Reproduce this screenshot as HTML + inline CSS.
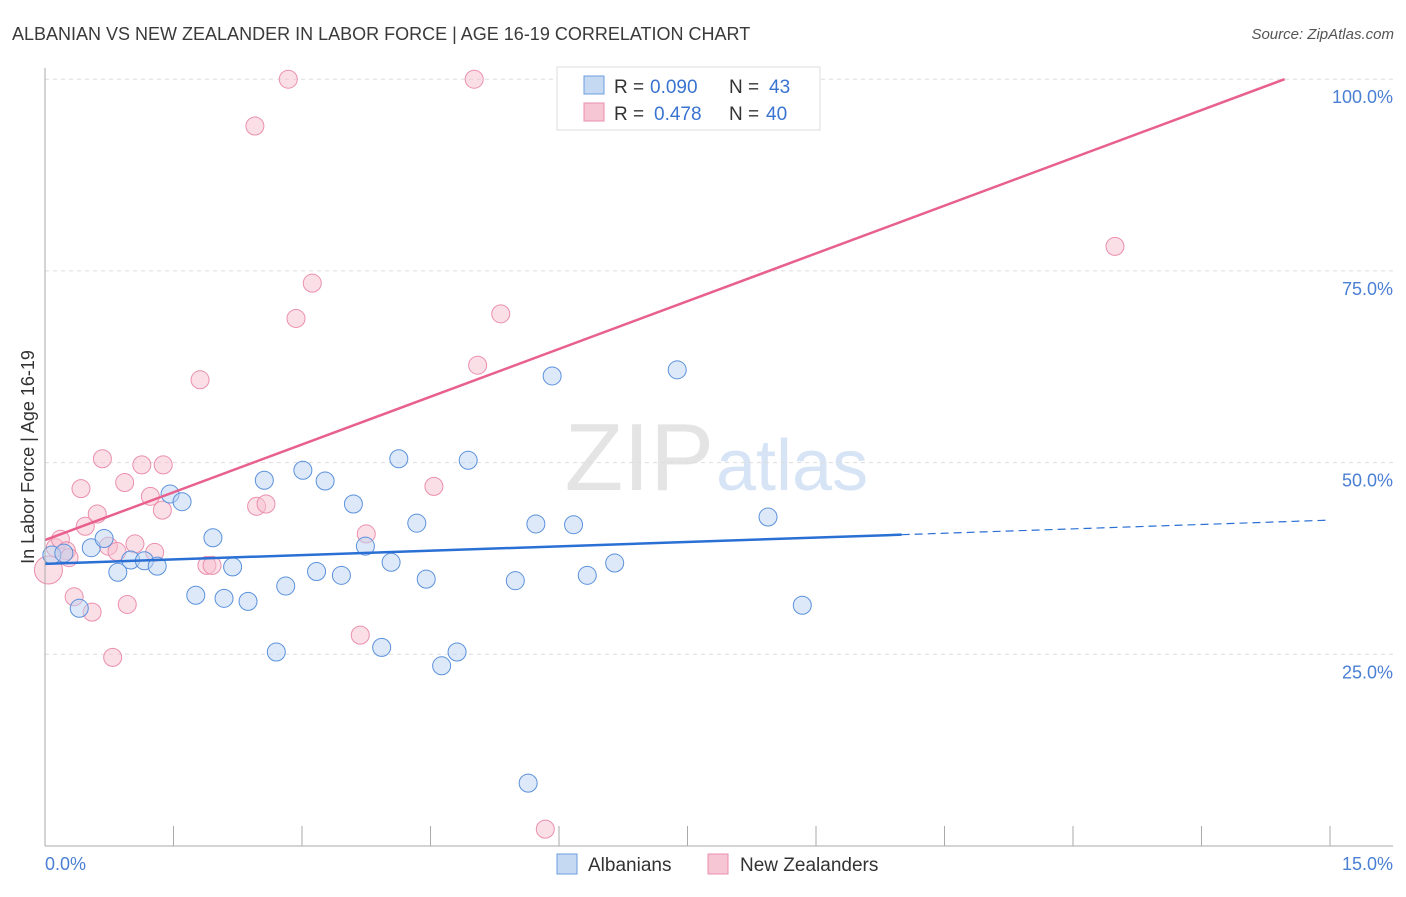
<!DOCTYPE html>
<html><head><meta charset="utf-8"><style>
body{margin:0;background:#fff;font-family:"Liberation Sans",sans-serif;}
svg text{font-family:"Liberation Sans",sans-serif;}
</style></head><body>
<svg id="chart" width="1406" height="892">
<text x="12" y="40" font-size="18" fill="#3a3a3a">ALBANIAN VS NEW ZEALANDER IN LABOR FORCE | AGE 16-19 CORRELATION CHART</text>
<text x="1394" y="39" font-size="15" fill="#555" text-anchor="end" font-style="italic">Source: ZipAtlas.com</text>
<text x="714" y="490" font-size="96" fill="#e4e4e4" text-anchor="end" font-family="Liberation Serif">ZIP</text>
<text x="716" y="490" font-size="72" fill="#d6e4f6">atlas</text>
<g id="grid"></g><g id="marks"></g><g id="axes"></g>
<text transform="translate(34,457) rotate(-90)" font-size="18" fill="#333" text-anchor="middle">In Labor Force | Age 16-19</text>
<rect x="557" y="67" width="263" height="63" fill="#fff" stroke="#ddd"/>
<rect x="584" y="76" width="20" height="18" fill="#c5d9f3" stroke="#6b9de0"/>
<rect x="584" y="103" width="20" height="18" fill="#f7c6d4" stroke="#eb8fae"/>
<g font-size="19">
<text x="614" y="93" fill="#333">R =</text><text x="650" y="93" fill="#3a74d0">0.090</text>
<text x="729" y="93" fill="#333">N =</text><text x="769" y="93" fill="#3a74d0">43</text></g>
<g font-size="19">
<text x="614" y="120" fill="#333">R =</text><text x="654" y="120" fill="#3a74d0">0.478</text>
<text x="729" y="120" fill="#333">N =</text><text x="766" y="120" fill="#3a74d0">40</text></g>
<rect x="557" y="854" width="20" height="20" fill="#c5d9f3" stroke="#6b9de0"/>
<text x="588" y="871" font-size="19" fill="#333">Albanians</text>
<rect x="708" y="854" width="20" height="20" fill="#f7c6d4" stroke="#eb8fae"/>
<text x="740" y="871" font-size="19" fill="#333">New Zealanders</text>
<text x="45" y="870" font-size="18" fill="#4a7fd4">0.0%</text>
<text x="1393" y="870" font-size="18" fill="#4a7fd4" text-anchor="end">15.0%</text>
</svg>
<script>
const yTicks=[25,50,75,100];
const yTickLabels=["25.0%","50.0%","75.0%","100.0%"];
const blueX=[0.08,0.22,0.54,0.69,0.40,0.85,1.00,1.16,1.31,1.46,1.60,1.76,1.96,2.09,2.19,2.37,2.56,2.70,2.81,3.01,3.17,3.27,3.46,3.60,3.74,3.93,4.04,4.13,4.34,4.45,4.63,4.81,4.94,5.49,5.64,5.73,5.92,6.17,6.33,6.65,7.38,8.44,8.84];
const blueY=[37.95,38.2,38.9,40.1,31.0,35.7,37.3,37.2,36.5,45.9,44.9,32.7,40.2,32.3,36.4,31.9,47.7,25.3,33.9,49.0,35.8,47.6,35.3,44.6,39.1,25.9,37.0,50.5,42.1,34.8,23.5,25.3,50.3,34.6,8.2,42.0,61.3,41.9,35.3,36.9,62.1,42.9,31.4];
const pinkX=[0.04,0.12,0.18,0.25,0.28,0.34,0.42,0.47,0.55,0.61,0.67,0.74,0.79,0.84,0.93,0.96,1.05,1.13,1.23,1.28,1.37,1.38,1.81,1.89,1.95,2.45,2.47,2.58,2.84,2.93,3.12,3.68,3.75,4.54,5.01,5.05,5.32,5.84,7.67,12.49];
const pinkY=[36.0,38.9,40.0,38.5,37.6,32.5,46.6,41.7,30.5,43.3,50.5,39.1,24.6,38.4,47.4,31.5,39.4,49.7,45.6,38.3,43.8,49.7,60.8,36.6,36.6,93.9,44.3,44.6,100,68.8,73.4,27.5,40.7,46.9,100,62.7,69.4,2.2,100,78.2];
const blueTrend=[36.8,40.6,42.5];
const pinkTrend=[39.9,100];
const pinkTrendEndX=14.47;
const NS="http://www.w3.org/2000/svg";
const X=v=>45+v*(1285/15), Y=v=>846-v*7.668;
function mk(t,a,p){const e=document.createElementNS(NS,t);for(const k in a)e.setAttribute(k,a[k]);p.appendChild(e);return e;}
const grid=document.getElementById('grid'),marks=document.getElementById('marks'),axes=document.getElementById('axes');
yTicks.forEach((t,i)=>{
 const l=mk('line',{x1:45,x2:1393,y1:Y(t),y2:Y(t),stroke:'#ddd','stroke-dasharray':'4,4'},grid);
 
 
 const tx=mk('text',{x:1393,y:Y(t)+24,'font-size':18,fill:'#4a7fd4','text-anchor':'end'},grid);
 tx.textContent=yTickLabels[i];
 
 
});
const ya=mk('line',{x1:45,x2:45,y1:68,y2:846,stroke:'#aaa'},axes);


const xa=mk('line',{x1:45,x2:1393,y1:846,y2:846,stroke:'#aaa'},axes);


for(let i=0;i<=10;i++){const t=mk('line',{x1:X(i*1.5),x2:X(i*1.5),y1:826,y2:846,stroke:'#aaa'},axes);
 
 }
function pts(xs,ys,fill,stroke,name){xs.forEach((x,i)=>{
 const c=mk('circle',{cx:X(x),cy:Y(ys[i]),r:(i==0&&name=='point-new-zealanders')?14:9,fill:fill,'fill-opacity':0.5,stroke:stroke,'stroke-width':1},marks);
 
 });}
pts(pinkX,pinkY,'#f7c0d0','#eb8fae','point-new-zealanders');
pts(blueX,blueY,'#bcd3f2','#5b91dc','point-albanians');
const b1=mk('line',{x1:X(0),y1:Y(blueTrend[0]),x2:X(10),y2:Y(blueTrend[1]),stroke:'#2a6fd4','stroke-width':2.5},marks);


const b2=mk('line',{x1:X(10),y1:Y(blueTrend[1]),x2:X(15),y2:Y(blueTrend[2]),stroke:'#2a6fd4','stroke-width':1.2,'stroke-dasharray':'8,5'},marks);


const p1=mk('line',{x1:X(0),y1:Y(pinkTrend[0]),x2:X(pinkTrendEndX),y2:Y(pinkTrend[1]),stroke:'#e8608e','stroke-width':2.5},marks);


</script>
</body></html>
